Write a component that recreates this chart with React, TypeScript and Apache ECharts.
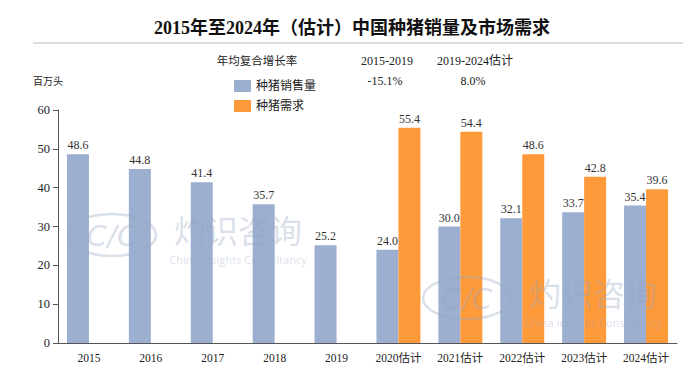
import React, { useEffect, useRef } from "react";
import * as echarts from "echarts";

const categories = ["2015", "2016", "2017", "2018", "2019", "2020估计", "2021估计", "2022估计", "2023估计", "2024估计"];
const salesValues = [48.6, 44.8, 41.4, 35.7, 25.2, 24.0, 30.0, 32.1, 33.7, 35.4];
const demandValues = [null, null, null, null, null, 55.4, 54.4, 48.6, 42.8, 39.6];
const seriesNames = ["种猪销售量", "种猪需求"];
const cagrHeader = ["年均复合增长率", "2015-2019", "2019-2024估计"];
const cagrSales = ["-15.1%", "8.0%"];
const titleText = "2015年至2024年（估计）中国种猪销量及市场需求";

const SERIF = "'Liberation Serif', 'Times New Roman', 'Noto Sans CJK SC', serif";
const BLUE = "#9cafd1";
const ORANGE = "#ff9a3a";
const WM = "rgba(150,165,192,0.35)";

function watermark(dx: number, dy: number) {
  return [
    {
      type: "ellipse",
      shape: { cx: 112 + dx, cy: 235 + dy, rx: 44, ry: 21 },
      style: { fill: "none", stroke: WM, lineWidth: 2.5 },
      z: 100,
      silent: true,
    },
    {
      type: "text",
      x: 112 + dx,
      y: 236 + dy,
      style: {
        text: "C/C",
        fill: WM,
        font: "italic 29px 'DejaVu Sans', sans-serif",
        textAlign: "center",
        textVerticalAlign: "middle",
      },
      z: 100,
      silent: true,
    },
    {
      type: "text",
      x: 238 + dx,
      y: 229 + dy,
      style: {
        text: "灼识咨询",
        fill: WM,
        font: "32px 'Noto Sans CJK SC', sans-serif",
        textAlign: "center",
        textVerticalAlign: "middle",
      },
      z: 100,
      silent: true,
    },
    {
      type: "text",
      x: 238 + dx,
      y: 259 + dy,
      style: {
        text: "China Insights Consultancy",
        fill: WM,
        font: "11px 'Open Sans', sans-serif",
        textAlign: "center",
        textVerticalAlign: "middle",
      },
      z: 100,
      silent: true,
    },
  ];
}

export default function App() {
  const ref = useRef<HTMLDivElement>(null);
  useEffect(() => {
    if (!ref.current) return;
    const chart = echarts.init(ref.current, null, { renderer: "svg" });
    const labelStyle = {
      show: true,
      position: "top",
      distance: 3,
      fontFamily: SERIF,
      fontSize: 12,
      color: "#333",
      formatter: (p: any) => (p.value == null ? "" : Number(p.value).toFixed(1)),
    };
    chart.setOption({
      animation: false,
      backgroundColor: "#fff",
      legend: {
        orient: "vertical",
        left: 229,
        top: 75,
        itemWidth: 17,
        itemHeight: 12,
        itemGap: 8,
        icon: "rect",
        textStyle: { fontFamily: SERIF, fontSize: 12, color: "#222" },
        data: seriesNames,
      },
      grid: { left: 58, right: 10, top: 110, bottom: 29 },
      xAxis: {
        type: "category",
        data: categories,
        axisLine: { show: true, lineStyle: { color: "#555", width: 1 } },
        axisTick: { show: false },
        axisLabel: { interval: 0, fontFamily: SERIF, fontSize: 11.5, color: "#222", margin: 9 },
      },
      yAxis: {
        type: "value",
        min: 0,
        max: 60,
        interval: 10,
        axisLine: { show: true, lineStyle: { color: "#555", width: 1 } },
        axisTick: { show: true, length: 5, lineStyle: { color: "#555" } },
        splitLine: { show: false },
        axisLabel: { fontFamily: SERIF, fontSize: 12.5, color: "#222", margin: 8 },
      },
      series: [
        {
          name: seriesNames[0],
          type: "bar",
          data: salesValues,
          barWidth: 22,
          barGap: "0%",
          itemStyle: { color: BLUE },
          label: labelStyle,
        },
        {
          name: seriesNames[1],
          type: "bar",
          data: demandValues,
          barWidth: 22,
          itemStyle: { color: ORANGE },
          label: labelStyle,
        },
      ],
      graphic: [
        {
          type: "text",
          x: 352,
          y: 28,
          style: { text: titleText, font: `bold 18px ${SERIF}`, fill: "#111", textAlign: "center", textVerticalAlign: "middle" },
        },
        {
          type: "line",
          shape: { x1: 33, y1: 43, x2: 683, y2: 43 },
          style: { stroke: "#bbb", lineWidth: 1 },
        },
        {
          type: "text",
          x: 257,
          y: 61,
          style: { text: cagrHeader[0], font: `11.5px ${SERIF}`, fill: "#222", textAlign: "center", textVerticalAlign: "middle" },
        },
        {
          type: "text",
          x: 387,
          y: 61,
          style: { text: cagrHeader[1], font: `12px ${SERIF}`, fill: "#222", textAlign: "center", textVerticalAlign: "middle" },
        },
        {
          type: "text",
          x: 475,
          y: 61,
          style: { text: cagrHeader[2], font: `12px ${SERIF}`, fill: "#222", textAlign: "center", textVerticalAlign: "middle" },
        },
        {
          type: "text",
          x: 385,
          y: 81,
          style: { text: cagrSales[0], font: `12px ${SERIF}`, fill: "#222", textAlign: "center", textVerticalAlign: "middle" },
        },
        {
          type: "text",
          x: 473,
          y: 81,
          style: { text: cagrSales[1], font: `12px ${SERIF}`, fill: "#222", textAlign: "center", textVerticalAlign: "middle" },
        },
        {
          type: "text",
          x: 33,
          y: 81,
          style: { text: "百万头", font: `10px ${SERIF}`, fill: "#222", textAlign: "left", textVerticalAlign: "middle" },
        },
        ...watermark(0, 0),
        ...watermark(355, 63),
      ],
    });
    return () => chart.dispose();
  }, []);
  return <div ref={ref} style={{ width: 687, height: 372, position: "absolute", left: 0, top: 0 }} />;
}
